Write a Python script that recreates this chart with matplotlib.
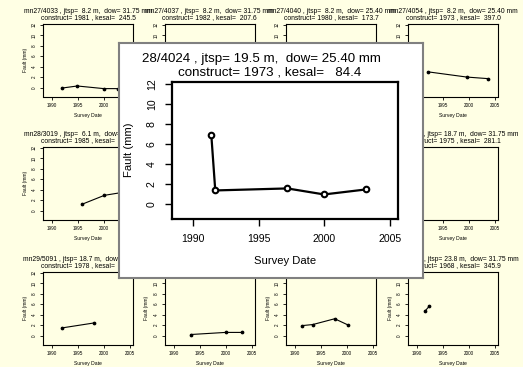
import matplotlib
matplotlib.use("Agg")
import matplotlib.pyplot as plt

plt.rcParams['font.family'] = ['Liberation Sans', 'DejaVu Sans']

W, H = 523, 367
BG = '#ffffe4'

# small panels, row by row (panels fully covered by the zoom box left empty)
panel_ids = ["mn27/4033", "mn27/4037", "mn27/4040", "mn27/4054",
             "mn28/3019", "mn28/4024", "mn28/4030", "mn28/4063",
             "mn29/5091", "mn29/5092", "mn29/5093", "mn29/5094"]
panel_jtsp = [8.2, 8.2, 8.2, 8.2, 6.1, 19.5, 18.7, 18.7, 18.7, 18.7, 18.7, 23.8]
panel_dow = [31.75, 31.75, 25.40, 25.40, 31.75, 25.40, 31.75, 31.75, 31.75, 31.75, 31.75, 31.75]
panel_construct = [1981, 1982, 1980, 1973, 1985, 1973, 1975, 1975, 1978, 1978, 1978, 1968]
panel_kesal = [245.5, 207.6, 173.7, 397.0, 150.0, 84.4, 281.1, 281.1, 300.0, 300.0, 300.0, 345.9]
panel_years = [
    [1991.9, 1994.9, 2000.0, 2002.7],
    [],
    [],
    [1992.1, 1999.6, 2003.7],
    [1995.8, 2000.1, 2003.2],
    [1991.4, 1991.7, 1997.2, 2000.0, 2003.2],
    [],
    [],
    [1991.9, 1998.1],
    [1993.3, 2000.0, 2003.2],
    [1991.4, 1993.4, 1997.6, 2000.2],
    [1991.6, 1992.4],
]
panel_fault = [
    [-0.1, 0.3, -0.2, -0.2],
    [],
    [],
    [3.0, 2.0, 1.7],
    [1.2, 2.9, 3.4],
    [6.9, 1.4, 1.6, 1.0, 1.5],
    [],
    [],
    [1.45, 2.4],
    [0.2, 0.6, 0.6],
    [1.9, 2.1, 3.2, 2.0],
    [4.7, 5.6],
]

# enlarged panel
zoom_title1 = "28/4024 , jtsp= 19.5 m,  dow= 25.40 mm"
zoom_title2 = "construct= 1973 , kesal=   84.4"
zoom_years = [1991.4, 1991.7, 1997.2, 2000.0, 2003.2]
zoom_fault = [6.9, 1.4, 1.6, 1.0, 1.5]

x_ticks = [1990, 1995, 2000, 2005]
y_ticks = [0, 2, 4, 6, 8, 10, 12]


def add_px_axes(fig, left, top, right, bottom):
    return fig.add_axes([left / W, 1 - bottom / H, (right - left) / W, (bottom - top) / H])


fig = plt.figure(figsize=(W / 100, H / 100), dpi=100, facecolor=BG)

col_left = [43, 164.7, 286.3, 408]
row_top = [24, 147, 272]
pw, ph = 90, 72.5
small_fs = 3.3
for i in range(12):
    r, c = divmod(i, 4)
    l, t = col_left[c], row_top[r]
    ax = add_px_axes(fig, l, t, l + pw, t + ph)
    ax.set_facecolor(BG)
    ax.plot(panel_years[i], panel_fault[i], color='black', lw=0.8,
            marker='o', ms=1.7, mfc='black', mec='black')
    ax.set_xlim(1988.3, 2005.6)
    ax.set_ylim(-1.7, 12.1)
    ax.set_xticks(x_ticks)
    ax.set_yticks(y_ticks)
    ax.tick_params(length=2, width=0.6, pad=2.5, labelsize=small_fs)
    for lab in ax.get_yticklabels():
        lab.set_rotation(90)
        lab.set_va('center')
    for s in ax.spines.values():
        s.set_linewidth(0.8)
    ax.set_xlabel("Survey Date", fontsize=3.6, labelpad=4)
    ax.set_ylabel("Fault (mm)", fontsize=3.6, labelpad=3)
    line1 = f"{panel_ids[i]} , jtsp= {panel_jtsp[i]:4.1f} m,  dow= {panel_dow[i]:5.2f} mm"
    line2 = f"construct= {panel_construct[i]} , kesal= {panel_kesal[i]:6.1f}"
    ax.text(0.5, 1 + 12.5 / ph, line1, transform=ax.transAxes, ha='center', va='center',
            fontsize=4.9, clip_on=False)
    ax.text(0.5, 1 + 6 / ph, line2, transform=ax.transAxes, ha='center', va='center',
            fontsize=4.9, clip_on=False)

# zoom box on top
box = add_px_axes(fig, 119, 43.5, 423, 278)
box.set_facecolor('white')
box.set_xticks([])
box.set_yticks([])
for s in box.spines.values():
    s.set_edgecolor('#808080')
    s.set_linewidth(1.5)
box.text((261 - 119) / 304, 1 - (59 - 43.5) / 234.5, zoom_title1, transform=box.transAxes,
         ha='center', va='center', fontsize=9.6)
box.text((270 - 119) / 304, 1 - (72.5 - 43.5) / 234.5, zoom_title2, transform=box.transAxes,
         ha='center', va='center', fontsize=9.6)

axz = add_px_axes(fig, 172, 81.7, 397.5, 218.5)
axz.set_facecolor('white')
axz.plot(zoom_years, zoom_fault, color='black', lw=1.6,
         marker='o', ms=4, mfc='white', mec='black', mew=1.5)
axz.set_xlim(1988.4, 2005.6)
axz.set_ylim(-1.4, 12.25)
axz.set_xticks(x_ticks)
axz.set_yticks(y_ticks)
axz.tick_params(length=5, width=1.0, pad=6, labelsize=7.6)
for lab in axz.get_yticklabels():
    lab.set_rotation(90)
    lab.set_va('center')
for s in axz.spines.values():
    s.set_linewidth(1.6)
axz.set_xlabel("Survey Date", fontsize=8.1, labelpad=9)
axz.set_ylabel("Fault (mm)", fontsize=8.1, labelpad=9)

fig.savefig("out.png", dpi=100, facecolor=BG)
